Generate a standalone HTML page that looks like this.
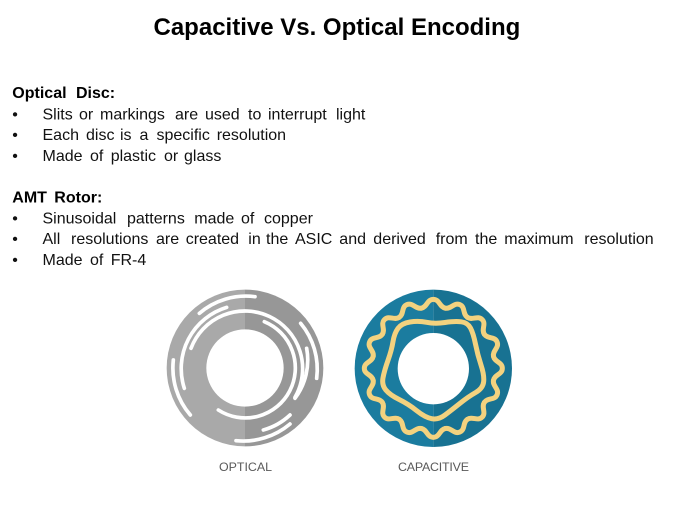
<!DOCTYPE html>
<html>
<head>
<meta charset="utf-8">
<style>
html,body{margin:0;padding:0;background:#fff;width:675px;height:506px;overflow:hidden}
svg{display:block;position:absolute;left:0;top:0}
.t{font-family:"Liberation Sans",sans-serif;font-size:16px;fill:#111}
.b{font-weight:bold;fill:#000}
.l{font-family:"Liberation Sans",sans-serif;font-size:12.4px;fill:#595959}
</style>
</head>
<body>
<svg width="675" height="506" viewBox="0 0 675 506" xmlns="http://www.w3.org/2000/svg">
<text x="153.5" y="35" font-family="Liberation Sans, sans-serif" font-weight="bold" font-size="24" fill="#000">Capacitive Vs. Optical Encoding</text>

<text class="t b" y="98"><tspan x="12.3">Optical</tspan><tspan x="76">Disc:</tspan></text>
<text class="t" y="119.5"><tspan x="12.3">•</tspan><tspan x="42.5">Slits</tspan><tspan x="79">or</tspan><tspan x="100">markings</tspan><tspan x="175">are</tspan><tspan x="205">used</tspan><tspan x="248">to</tspan><tspan x="268">interrupt</tspan><tspan x="336">light</tspan></text>
<text class="t" y="140"><tspan x="12.3">•</tspan><tspan x="42.5">Each</tspan><tspan x="86">disc</tspan><tspan x="120">is</tspan><tspan x="139.5">a</tspan><tspan x="156.5">specific</tspan><tspan x="216.7">resolution</tspan></text>
<text class="t" y="161"><tspan x="12.3">•</tspan><tspan x="42.5">Made</tspan><tspan x="90">of</tspan><tspan x="110.7">plastic</tspan><tspan x="164">or</tspan><tspan x="184">glass</tspan></text>

<text class="t b" y="202.5"><tspan x="12.3">AMT</tspan><tspan x="54.3">Rotor:</tspan></text>
<text class="t" y="223.5"><tspan x="12.3">•</tspan><tspan x="42.5">Sinusoidal</tspan><tspan x="127">patterns</tspan><tspan x="194.3">made</tspan><tspan x="241">of</tspan><tspan x="264">copper</tspan></text>
<text class="t" y="244"><tspan x="12.3">•</tspan><tspan x="42.5">All</tspan><tspan x="71">resolutions</tspan><tspan x="156">are</tspan><tspan x="185.7">created</tspan><tspan x="248.3">in</tspan><tspan x="266">the</tspan><tspan x="295">ASIC</tspan><tspan x="339.3">and</tspan><tspan x="373.3">derived</tspan><tspan x="435.7">from</tspan><tspan x="475">the</tspan><tspan x="504.3">maximum</tspan><tspan x="584.3">resolution</tspan></text>
<text class="t" y="265"><tspan x="12.3">•</tspan><tspan x="42.5">Made</tspan><tspan x="90">of</tspan><tspan x="110.7">FR-4</tspan></text>

<!-- Optical disc -->
<g transform="translate(155 280) scale(0.33333)">
  <path d="M270 29 A235 235 0 0 0 270 499 Z" fill="#a9a9a9"/>
  <path d="M270 29 A235 235 0 0 1 270 499 Z" fill="#979797"/>
  <circle cx="270" cy="264" r="116" fill="#fff"/>
  <g fill="none" stroke="#fff" stroke-width="11" stroke-linecap="round">
    <path d="M133 100 A215 215 0 0 1 300 50"/>
    <path d="M88 325 A192 192 0 0 1 215 82"/>
    <path d="M108 205 A173 173 0 1 1 420 352"/>
    <path d="M328 125 A150 150 0 1 1 190 390"/>
    <path d="M437 130 A215 215 0 0 1 485 295"/>
    <path d="M455 205 A192 192 0 0 1 420 355"/>
    <path d="M55 240 A216 216 0 0 0 106 405"/>
    <path d="M243 482 A218 218 0 0 0 405 432"/>
    <path d="M325 450 A192 192 0 0 0 405 405"/>
  </g>
</g>

<!-- Capacitive disc -->
<g transform="translate(345 280) scale(0.33333)">
  <path d="M265 29 A236 236 0 0 0 265 501 Z" fill="#1b7c9f"/>
  <path d="M265 29 A236 236 0 0 1 265 501 Z" fill="#187292"/>
  <circle cx="265" cy="266" r="107" fill="#fff"/>
  <g transform="translate(265 265)" fill="none" stroke="#f3d27f" stroke-width="15" stroke-linecap="round">
    <path id="w" d="M-35.9 -180.5 C-18.2 -184 -19 -207 0 -207 S18.2 -184 35.9 -180.5"/>
    <use href="#w" transform="rotate(22.5)"/>
    <use href="#w" transform="rotate(45)"/>
    <use href="#w" transform="rotate(67.5)"/>
    <use href="#w" transform="rotate(90)"/>
    <use href="#w" transform="rotate(112.5)"/>
    <use href="#w" transform="rotate(135)"/>
    <use href="#w" transform="rotate(157.5)"/>
    <use href="#w" transform="rotate(180)"/>
    <use href="#w" transform="rotate(202.5)"/>
    <use href="#w" transform="rotate(225)"/>
    <use href="#w" transform="rotate(247.5)"/>
    <use href="#w" transform="rotate(270)"/>
    <use href="#w" transform="rotate(292.5)"/>
    <use href="#w" transform="rotate(315)"/>
    <use href="#w" transform="rotate(337.5)"/>
  </g>
  <path fill="none" stroke="#f3d27f" stroke-width="15" stroke-linejoin="round" d="M245 127 Q270 132 300 127.5 Q330 123 349 125.5 Q368 128 376.5 144 Q385 160 391.5 192.5 Q398 225 408 255 Q418 285 416 305 Q414 325 392 337.5 Q370 350 345 370 Q320 390 300 405 Q280 420 260 416 Q240 412 215 392 Q190 372 162.5 358.5 Q135 345 122.5 330 Q110 315 114 293.5 Q118 272 129 241 Q140 210 144 185 Q148 160 159 145 Q170 130 195 126 Q220 122 245 127 Z"/>
</g>

<text class="l" x="219" y="471">OPTICAL</text>
<text class="l" x="398" y="471" textLength="71">CAPACITIVE</text>
</svg>
</body>
</html>
